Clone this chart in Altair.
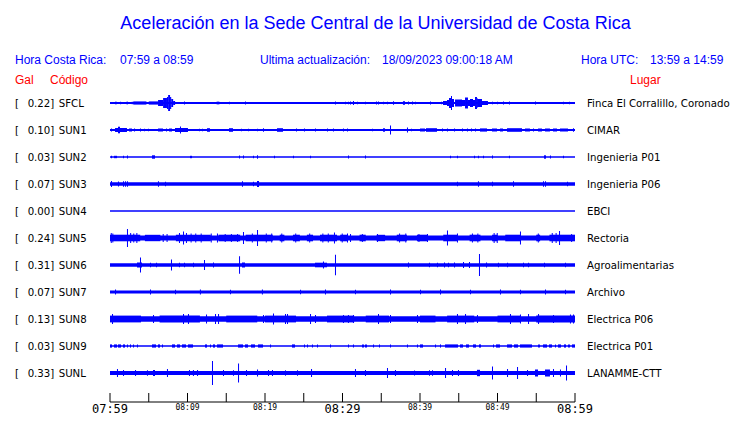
import altair as alt
import pandas as pd

# ---------------- data ----------------
TITLE = "Aceleración en la Sede Central de la Universidad de Costa Rica"
HORA_CR_LBL = "Hora Costa Rica:"
HORA_CR = "07:59 a 08:59"
ACT_LBL = "Ultima actualización:"
ACT = "18/09/2023 09:00:18 AM"
HORA_UTC_LBL = "Hora UTC:"
HORA_UTC = "13:59 a 14:59"

CODES = ["SFCL", "SUN1", "SUN2", "SUN3", "SUN4", "SUN5", "SUN6", "SUN7", "SUN8", "SUN9", "SUNL"]
GAL = [0.22, 0.10, 0.03, 0.07, 0.00, 0.24, 0.31, 0.07, 0.13, 0.03, 0.33]
PLACES = ["Finca El Corralillo, Coronado", "CIMAR", "Ingenieria P01", "Ingenieria P06", "EBCI",
          "Rectoria", "Agroalimentarias", "Archivo", "Electrica P06", "Electrica P01", "LANAMME-CTT"]
# background (noise) half-amplitude of each trace
NOISE = [1.0, 1.0, 0.8, 1.8, 0.75, 2.6, 1.7, 1.5, 2.8, 0.7, 2.0]

# events: (start minute after 07:59, end minute, half-amplitude)
EV_SFCL = [(0.7, 0.7, 1.5), (1.3, 1.3, 1.3), (2.15, 2.15, 1.5), (2.8, 2.8, 1.3), (3.0, 4.7, 1.6),
           (5.0, 6.2, 1.6), (6.2, 6.85, 3.0), (6.85, 7.35, 5.0), (7.35, 7.5, 6.0), (7.5, 7.75, 8.0),
           (7.75, 7.9, 6.0), (7.9, 8.15, 4.0), (8.15, 8.4, 2.0), (9.55, 9.55, 1.5), (13.77, 13.77, 1.5),
           (13.97, 13.97, 1.5), (15.35, 15.35, 1.3), (17.42, 17.42, 1.5), (29.03, 29.03, 1.5),
           (30.32, 30.32, 1.3), (30.71, 30.71, 1.3), (30.97, 30.97, 1.5), (31.35, 31.35, 2.0),
           (31.87, 31.87, 1.3), (32.9, 32.9, 1.3), (34.32, 34.32, 1.5), (34.58, 34.58, 1.5),
           (35.23, 35.23, 1.3), (35.74, 35.74, 1.3), (36.52, 36.52, 1.8), (37.8, 38.06, 1.8),
           (38.45, 38.45, 1.5), (38.97, 38.97, 1.5), (39.35, 39.35, 1.3), (41.29, 41.29, 1.5),
           (42.71, 42.71, 1.3), (42.97, 43.48, 2.0), (43.48, 43.74, 3.0), (43.74, 44.0, 5.0),
           (44.0, 44.13, 7.0), (44.13, 44.39, 4.0), (44.52, 45.42, 3.5), (45.42, 45.81, 3.0),
           (45.81, 46.19, 5.5), (46.19, 46.45, 3.0), (46.45, 46.84, 4.0), (46.84, 47.1, 3.0),
           (47.1, 47.35, 6.0), (47.35, 47.48, 4.5), (47.48, 48.0, 4.0), (48.0, 48.77, 2.0),
           (49.29, 49.29, 1.3), (49.94, 49.94, 1.3), (50.71, 50.71, 1.6), (51.48, 51.48, 1.6),
           (54.84, 54.84, 1.5), (58.45, 58.45, 1.3), (59.23, 59.23, 1.3)]
EV_SUN1 = [(0.13, 0.13, 1.5), (0.65, 1.03, 2.0), (1.03, 1.29, 3.3), (1.29, 2.19, 2.0), (2.45, 2.84, 1.5),
           (3.1, 3.1, 1.5), (3.87, 3.87, 1.5), (4.39, 4.39, 1.3), (4.9, 4.9, 1.3), (6.19, 6.84, 1.5),
           (7.23, 7.23, 1.5), (7.61, 8.0, 1.5), (8.39, 10.06, 2.0), (9.03, 9.03, 3.5), (11.48, 11.48, 1.3),
           (11.87, 11.87, 1.3), (12.52, 12.9, 1.8), (15.35, 15.87, 1.8), (16.9, 16.9, 1.3),
           (17.81, 17.81, 1.3), (18.97, 18.97, 1.3), (19.74, 19.74, 1.8), (21.55, 22.32, 1.8),
           (24.0, 24.0, 1.5), (25.03, 25.03, 1.5), (26.45, 26.45, 1.5), (28.0, 28.0, 1.5),
           (28.77, 28.77, 1.5), (30.06, 30.06, 1.5), (30.58, 30.58, 1.5), (33.81, 33.81, 1.3),
           (35.23, 35.48, 1.8), (36.13, 36.13, 4.5), (38.32, 38.32, 2.5), (38.84, 38.84, 1.3),
           (40.0, 40.65, 1.5), (40.77, 42.19, 1.8), (42.84, 42.84, 1.5), (43.48, 43.48, 1.5),
           (44.39, 44.39, 1.5), (45.42, 45.42, 1.5), (46.06, 46.06, 1.5), (46.58, 46.58, 1.5),
           (47.1, 47.1, 1.5), (47.74, 48.65, 1.6), (49.29, 49.94, 1.5), (50.32, 50.71, 1.5),
           (51.23, 53.16, 1.8), (53.55, 54.19, 1.5), (54.58, 54.58, 1.5), (55.23, 55.74, 1.5),
           (56.13, 56.77, 1.5), (57.16, 57.68, 1.5), (58.06, 59.1, 1.5), (59.74, 59.74, 1.8)]
EV_SUN2 = [(0.13, 0.13, 1.2), (0.52, 0.9, 1.2), (1.68, 1.68, 1.2), (2.19, 2.19, 1.5), (5.42, 5.81, 1.7),
           (10.32, 10.58, 1.2), (16.65, 16.65, 1.5), (17.16, 17.16, 1.5), (18.45, 18.45, 1.3),
           (18.97, 18.97, 1.7), (21.16, 21.16, 1.2), (23.61, 23.61, 1.2), (25.81, 25.81, 1.2),
           (30.71, 30.71, 1.5), (32.9, 32.9, 1.5), (43.87, 43.87, 1.3), (44.77, 44.77, 1.3),
           (46.97, 46.97, 1.3), (47.48, 47.48, 1.3), (48.13, 48.13, 1.2), (49.29, 49.29, 1.5),
           (51.48, 51.48, 1.3), (56.0, 56.26, 1.7), (56.77, 56.77, 1.5), (58.45, 58.45, 1.2)]
EV_SUN3 = [(0.13, 0.13, 3.0), (1.03, 1.03, 2.5), (1.68, 1.68, 2.7), (1.94, 1.94, 2.7), (2.19, 2.19, 2.7),
           (6.19, 6.19, 2.7), (7.1, 7.1, 2.3), (17.03, 17.03, 2.7), (18.45, 18.45, 2.3), (18.97, 19.23, 3.0),
           (44.77, 44.77, 2.3), (47.48, 47.48, 2.7), (49.29, 49.29, 2.3), (52.0, 52.0, 2.7),
           (55.87, 55.87, 2.7), (56.13, 56.13, 2.7), (58.97, 58.97, 2.3)]
EV_SUN4 = []
EV_SUN5 = [(0.0, 3.9, 3.3), (4.5, 6.5, 3.2), (8.5, 13.0, 3.3), (14.0, 16.8, 3.3), (17.5, 21.0, 3.3),
           (21.9, 22.5, 3.3), (23.6, 24.5, 3.3), (25.4, 26.2, 3.3), (27.1, 29.3, 3.3), (29.7, 30.6, 3.3),
           (32.2, 33.0, 3.3), (34.4, 35.5, 3.2), (37.0, 38.3, 3.3), (39.6, 41.0, 3.3), (43.0, 44.8, 3.3),
           (46.4, 47.8, 3.3), (49.3, 50.0, 3.3), (51.0, 53.0, 3.3), (55.0, 55.5, 3.3), (56.7, 60.0, 3.3),
           (0.1, 0.1, 5.0), (0.3, 0.3, 4.5), (2.19, 2.19, 9.0), (2.6, 2.6, 5.0), (3.0, 3.0, 4.5),
           (3.4, 3.4, 5.0), (6.8, 6.8, 4.0), (7.3, 7.3, 4.0), (8.9, 8.9, 5.0), (9.42, 9.42, 6.5),
           (9.8, 9.8, 5.0), (10.4, 10.4, 4.5), (11.0, 11.0, 4.5), (11.7, 11.7, 4.5), (13.0, 13.0, 4.5),
           (13.8, 13.8, 4.5), (14.8, 14.8, 4.0), (15.6, 15.6, 4.0), (16.4, 16.4, 4.0), (17.16, 17.16, 6.0),
           (18.3, 18.3, 4.5), (18.97, 18.97, 8.0), (20.1, 20.1, 4.5), (20.8, 20.8, 4.5),
           (22.1, 22.1, 4.5), (23.9, 23.9, 4.5), (25.7, 25.7, 4.5), (27.4, 27.4, 4.5), (28.1, 28.1, 4.5),
           (28.9, 28.9, 5.5), (29.9, 29.9, 4.5), (30.58, 30.58, 4.5), (30.97, 30.97, 4.0),
           (32.5, 32.5, 4.0), (34.45, 34.45, 4.0), (37.3, 37.3, 4.5), (38.1, 38.1, 4.5),
           (39.8, 39.8, 4.0), (40.9, 40.9, 4.0), (43.48, 43.48, 7.5), (44.77, 44.77, 4.5),
           (46.7, 46.7, 4.5), (47.4, 47.4, 4.5), (49.5, 49.5, 5.0), (49.9, 49.9, 5.0),
           (52.9, 52.9, 6.5), (55.2, 55.2, 4.5), (57.0, 57.0, 5.0), (57.5, 57.5, 5.0),
           (57.94, 57.94, 7.0), (59.5, 59.5, 4.0)]
EV_SUN6 = [(3.48, 4.13, 2.5), (3.87, 3.87, 7.5), (5.16, 5.16, 2.3), (5.94, 5.94, 2.3), (7.87, 7.87, 5.5),
           (8.9, 8.9, 2.3), (9.55, 9.55, 2.3), (10.71, 10.71, 2.3), (12.13, 12.13, 5.0), (13.29, 13.29, 2.5),
           (16.65, 16.65, 8.7), (17.03, 17.42, 2.5), (26.45, 28.0, 2.3), (27.48, 27.48, 3.5),
           (29.03, 29.03, 10.3), (38.45, 38.45, 2.5), (41.16, 41.16, 2.3), (42.19, 42.19, 2.3),
           (43.1, 43.1, 2.5), (43.61, 43.61, 2.3), (44.39, 44.39, 2.5), (45.55, 45.55, 3.0),
           (46.32, 46.32, 3.0), (47.61, 47.61, 11.0), (48.52, 48.52, 2.5), (50.06, 50.06, 2.3),
           (51.23, 51.23, 2.3), (53.29, 53.29, 2.3), (53.94, 53.94, 2.3), (56.0, 56.0, 2.3), (58.71, 58.71, 2.3)]
EV_SUN7 = [(0.65, 0.65, 2.5), (5.16, 5.16, 2.5), (8.39, 8.39, 2.3), (11.6, 11.6, 2.5), (15.48, 15.48, 2.3),
           (19.6, 19.6, 2.5), (24.52, 24.52, 2.3), (27.74, 27.74, 2.5), (31.61, 31.61, 2.3),
           (36.13, 36.13, 2.5), (40.0, 40.0, 2.3), (42.58, 42.58, 2.5), (46.45, 46.45, 2.3),
           (50.32, 50.32, 2.5), (52.9, 52.9, 2.3), (56.13, 56.13, 2.5), (58.71, 58.71, 2.3)]
EV_SUN8 = [(0.0, 4.0, 3.4), (6.4, 11.6, 3.4), (15.0, 19.0, 3.4), (20.0, 24.0, 3.4), (28.0, 31.5, 3.4),
           (33.0, 36.0, 3.4), (40.0, 42.0, 3.4), (43.5, 47.0, 3.4), (50.0, 53.0, 3.4), (55.0, 60.0, 3.4),
           (0.26, 0.26, 5.0), (5.55, 5.55, 4.0), (9.42, 9.42, 5.0), (10.06, 10.06, 5.0), (12.39, 12.39, 4.5),
           (13.55, 13.55, 5.0), (13.94, 13.94, 5.0), (19.74, 19.74, 4.0), (21.03, 21.03, 5.5),
           (22.58, 22.58, 5.0), (22.84, 22.84, 5.0), (25.81, 25.81, 5.0), (26.45, 26.45, 4.0),
           (30.06, 30.06, 4.0), (30.7, 30.7, 4.0), (31.35, 31.35, 4.0), (34.58, 34.58, 5.0),
           (36.13, 36.13, 4.0), (39.61, 39.61, 4.0), (44.77, 44.77, 5.0), (45.81, 45.81, 5.0),
           (47.35, 47.35, 4.0), (51.61, 51.61, 5.0), (52.9, 52.9, 4.5), (53.94, 53.94, 5.0),
           (55.23, 55.23, 5.0), (57.16, 57.16, 4.0), (59.35, 59.35, 4.5), (59.74, 59.74, 4.5)]
EV_SUN9 = [(0.0, 0.26, 1.6), (0.52, 0.9, 1.6), (1.03, 1.42, 1.6), (1.68, 1.94, 1.6), (2.19, 2.19, 1.6),
           (2.58, 2.58, 1.6), (2.97, 2.97, 1.6), (3.48, 3.48, 1.6), (5.42, 5.94, 1.6), (6.19, 6.45, 1.6),
           (6.71, 6.71, 1.6), (8.0, 8.39, 1.6), (8.65, 9.03, 1.6), (9.29, 9.81, 1.6), (10.06, 10.71, 1.6),
           (12.26, 12.52, 1.6), (12.9, 12.9, 1.6), (13.29, 13.55, 1.6), (13.81, 14.58, 1.6),
           (16.52, 17.16, 1.6), (17.42, 17.81, 1.6), (18.19, 18.71, 1.6), (19.1, 19.74, 1.6),
           (20.65, 20.65, 1.6), (23.48, 23.87, 1.6), (25.03, 25.03, 1.6), (25.42, 25.42, 1.6),
           (26.06, 26.06, 1.6), (26.71, 26.71, 1.6), (28.39, 28.39, 1.6), (30.71, 30.71, 1.6),
           (31.35, 31.35, 1.6), (32.52, 32.77, 1.6), (32.9, 33.16, 1.6), (33.94, 33.94, 1.6),
           (34.71, 34.71, 1.6), (36.13, 36.13, 1.6), (38.32, 38.32, 1.6), (39.61, 39.61, 1.6),
           (40.0, 40.39, 1.6), (41.94, 41.94, 1.6), (42.58, 42.58, 1.6), (43.23, 44.9, 1.6),
           (45.16, 45.55, 1.6), (45.94, 46.32, 1.6), (46.84, 47.23, 1.6), (47.61, 47.87, 1.6),
           (49.42, 49.42, 1.6), (49.81, 50.32, 1.6), (51.23, 51.87, 1.6), (52.13, 52.65, 1.6),
           (52.9, 54.45, 1.6), (55.23, 55.48, 1.6), (55.87, 56.39, 1.6), (56.65, 57.03, 1.6),
           (57.42, 57.42, 1.6), (57.81, 58.19, 1.6), (58.58, 58.84, 1.6), (59.1, 59.35, 1.6), (59.61, 60.0, 1.6)]
EV_SUNL = [(0.9, 0.9, 4.0), (1.68, 1.68, 3.0), (3.23, 3.23, 3.0), (4.77, 4.77, 2.7), (5.55, 5.81, 3.0),
           (7.35, 7.35, 4.0), (10.19, 10.19, 3.0), (10.7, 10.7, 3.0), (11.23, 11.23, 3.0), (13.16, 13.16, 12.0),
           (14.58, 14.58, 3.0), (15.87, 15.87, 2.7), (16.52, 16.52, 9.5), (17.55, 17.55, 3.0),
           (18.97, 18.97, 3.5), (20.39, 20.39, 3.0), (20.9, 20.9, 3.0), (22.58, 22.58, 2.7),
           (24.13, 24.13, 2.7), (25.94, 25.94, 4.0), (31.61, 31.61, 4.0), (32.9, 32.9, 3.0),
           (35.74, 35.74, 5.0), (36.77, 36.77, 3.0), (39.23, 39.23, 2.5), (41.16, 41.16, 2.7),
           (41.55, 41.55, 2.7), (43.23, 43.23, 5.0), (44.13, 44.13, 3.0), (44.9, 44.9, 3.0),
           (47.35, 47.74, 3.2), (49.29, 49.29, 6.5), (51.23, 51.23, 4.0), (52.52, 52.52, 6.0),
           (53.81, 53.81, 3.0), (54.84, 55.23, 3.5), (56.13, 56.77, 3.5), (57.16, 57.16, 4.0),
           (58.06, 58.06, 3.5), (58.84, 58.84, 7.5)]
EVENTS = [EV_SFCL, EV_SUN1, EV_SUN2, EV_SUN3, EV_SUN4, EV_SUN5, EV_SUN6, EV_SUN7, EV_SUN8, EV_SUN9, EV_SUNL]

TICK_MINUTES = [0, 5, 10, 15, 20, 25, 30, 35, 40, 45, 50, 55, 60]
LABEL_MINUTES = [0, 10, 20, 30, 40, 50, 60]
TICK_LABELS = ["07:59", "08:09", "08:19", "08:29", "08:39", "08:49", "08:59"]

# ---------------- layout ----------------
SPACING = 27          # vertical offset between traces
W, H = 465, 312
MIN_W = 0.13          # minimum event width (minutes) so single spikes stay visible
BLUE, RED = "#0000ff", "#ff0000"

rows = []
for i, (code, noise, evs) in enumerate(zip(CODES, NOISE, EVENTS)):
    base = i * SPACING
    rows.append(dict(code=code, x=0.0, x2=60.0, y=base - noise, y2=base + noise))
    for s, e, a in evs:
        rows.append(dict(code=code, x=s, x2=max(e, s + MIN_W), y=base - a, y2=base + a))
traces = pd.DataFrame(rows)

stations = pd.DataFrame({
    "code": CODES,
    "gal": [f"{g:.2f}]" for g in GAL],
    "place": PLACES,
    "y": [i * SPACING for i in range(len(CODES))],
})

xs = alt.Scale(domain=[0, 60], nice=False, zero=False)
ys = alt.Scale(domain=[-13, H - 13], reverse=True, nice=False, zero=False)

trace_layer = alt.Chart(traces).mark_rect(color=BLUE, strokeWidth=0).encode(
    x=alt.X("x:Q", scale=xs, axis=None), x2="x2:Q",
    y=alt.Y("y:Q", scale=ys, axis=None), y2="y2:Q")

LBL_FONT = "DejaVu Sans"
LBL_SIZE = 10.2
def st_text(field, xpx, align):
    return alt.Chart(stations).mark_text(align=align, baseline="alphabetic", dy=4,
                                         font=LBL_FONT, fontSize=LBL_SIZE, color="black").encode(
        x=alt.value(xpx), y=alt.Y("y:Q", scale=ys, axis=None), text=f"{field}:N")

bracket = alt.Chart(stations).mark_text(align="left", baseline="alphabetic", dy=4, text="[",
                                        font=LBL_FONT, fontSize=LBL_SIZE, color="black").encode(
    x=alt.value(-95), y=alt.Y("y:Q", scale=ys, axis=None))
gal_layer = st_text("gal", -55.7, "right")
code_layer = st_text("code", -51.3, "left")
place_layer = st_text("place", 477, "left")

def label(txt, xpx, ypx, color=BLUE, size=12, align="left", font="Liberation Sans"):
    return alt.Chart(pd.DataFrame({"t": [txt]})).mark_text(
        align=align, baseline="alphabetic", font=font, fontSize=size, color=color).encode(
        x=alt.value(xpx), y=alt.value(ypx), text="t:N")

headers = [
    label(TITLE, 265.5, -61, size=18, align="center"),
    label(HORA_CR_LBL, -95, -26), label(HORA_CR, 10, -26),
    label(ACT_LBL, 150, -26), label(ACT, 272, -26),
    label(HORA_UTC_LBL, 471, -26), label(HORA_UTC, 540, -26),
    label("Gal", -95, -6.5, RED), label("Código", -60, -6.5, RED), label("Lugar", 520, -6.5, RED),
]

axis_line = alt.Chart(pd.DataFrame({"a": [0], "b": [60]})).mark_rule(color="black", strokeWidth=1).encode(
    x=alt.X("a:Q", scale=xs, axis=None), x2="b:Q", y=alt.value(H))
ticks = alt.Chart(pd.DataFrame({"m": TICK_MINUTES})).mark_rule(color="black", strokeWidth=1).encode(
    x=alt.X("m:Q", scale=xs, axis=None), y=alt.value(H - 9), y2=alt.value(H))
tick_labels = alt.Chart(pd.DataFrame({"m": LABEL_MINUTES, "t": TICK_LABELS})).mark_text(
    align="center", baseline="top", font="DejaVu Sans Mono", color="black").encode(
    x=alt.X("m:Q", scale=xs, axis=None), y=alt.value(H + 2), text="t:N",
    size=alt.condition("datum.m % 30 == 0", alt.value(12), alt.value(8)))

chart = alt.layer(trace_layer, bracket, gal_layer, code_layer, place_layer,
                  axis_line, ticks, tick_labels, *headers).properties(
    width=W, height=H, autosize="none", background="white",
    padding={"left": 102, "top": 82, "right": 157, "bottom": 13},
).configure_view(strokeWidth=0, stroke="transparent")

chart.save("out.html", embed_options={"renderer": "svg", "actions": False})
